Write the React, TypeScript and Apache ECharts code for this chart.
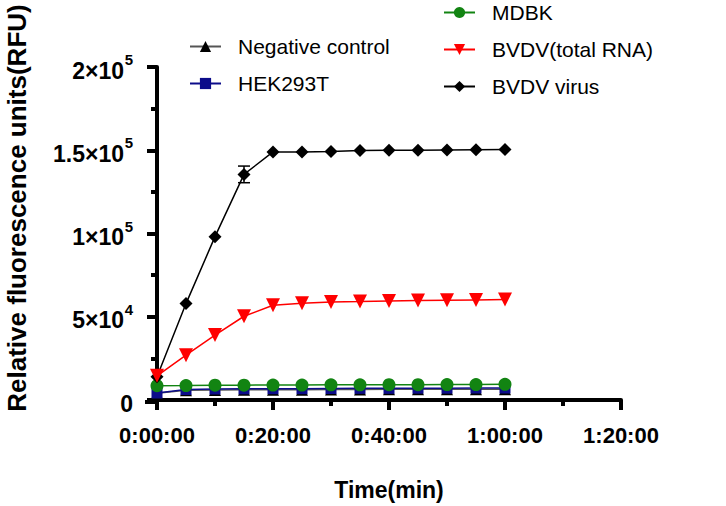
import React, { useEffect, useRef } from "react";
import * as echarts from "echarts";

const times = [0, 5, 10, 15, 20, 25, 30, 35, 40, 45, 50, 55, 60];
const negativeControl = [4000, 5800, 6000, 6100, 6200, 6200, 6300, 6300, 6400, 6400, 6500, 6500, 6500];
const hek293t = [4200, 6300, 6600, 6700, 6800, 6800, 6900, 7000, 7000, 7100, 7100, 7200, 7200];
const mdbk = [8600, 8700, 8900, 8900, 9000, 9000, 9100, 9100, 9200, 9200, 9300, 9300, 9400];
const bvdvRna = [14500, 26900, 39000, 50300, 56900, 58100, 58900, 59100, 59500, 59700, 59900, 60100, 60300];
const bvdvVirus = [14000, 57900, 98100, 135500, 149000, 149000, 149300, 149800, 150000, 150000, 150200, 150300, 150400];
// error bars: [time, low, high]
const virusErrors = [[15, 130500, 140500]];

const yTickValues = [0, 50000, 100000, 150000, 200000];
const yTickMantissa = ["0", "5", "1", "1.5", "2"];
const yTickExponent = ["", "4", "5", "5", "5"];

const FONT = "'Liberation Sans', Arial, sans-serif";

function xLabel(v: number): string {
  const h = Math.floor(v / 60);
  const m = v % 60;
  return `${h}:${m < 10 ? "0" + m : m}:00`;
}

function charTokens(s: string): string {
  return s
    .split("")
    .map((c) => (c === "." ? `{p|.}` : `{d|${c}}`))
    .join("");
}

function yLabel(v: number): string {
  const i = yTickValues.indexOf(v);
  if (i < 0) return "";
  if (!yTickExponent[i]) return charTokens(yTickMantissa[i]);
  return `${charTokens(yTickMantissa[i])}{x|×}${charTokens("10")}{s|${yTickExponent[i]}}`;
}

function pairs(ys: number[]) {
  return times.map((t, i) => [t, ys[i]]);
}

export default function App() {
  const ref = useRef<HTMLDivElement>(null);
  useEffect(() => {
    if (!ref.current) return;
    const chart = echarts.init(ref.current, null, { renderer: "svg" });
    const lineW = 1.5;
    const legendText = { fontSize: 21, color: "#000", fontFamily: FONT, lineHeight: 21, padding: [0, 0, 0, 12] };
    const axisStroke = { color: "#000", width: 4 };
    const lbl = { fontWeight: "bold", color: "#000", fontFamily: FONT, lineHeight: 30 };
    chart.setOption({
      animation: false,
      backgroundColor: "#fff",
      grid: { left: 157, right: 105, top: 67, bottom: 104, containLabel: false },
      legend: [
        {
          data: ["Negative control", "HEK293T"],
          orient: "vertical",
          left: 189,
          top: 36,
          padding: 0,
          itemWidth: 31,
          itemHeight: 14,
          itemGap: 16,
          textStyle: legendText,
        },
        {
          data: ["MDBK", "BVDV(total RNA)", "BVDV virus"],
          orient: "vertical",
          left: 443,
          top: 2,
          padding: 0,
          itemWidth: 31,
          itemHeight: 14,
          itemGap: 16,
          textStyle: legendText,
        },
      ],
      xAxis: {
        type: "value",
        min: 0,
        max: 80,
        interval: 20,
        name: "Time(min)",
        nameLocation: "middle",
        nameGap: 78,
        nameTextStyle: { fontSize: 23, fontWeight: "bold", color: "#000", fontFamily: FONT },
        axisLine: { show: true, onZero: false, lineStyle: axisStroke },
        axisTick: { show: true, length: 10, lineStyle: axisStroke },
        minorTick: { show: true, splitNumber: 2, length: 6, lineStyle: axisStroke },
        splitLine: { show: false },
        axisLabel: {
          formatter: (v: number) => xLabel(v),
          fontSize: 22,
          fontWeight: "bold",
          color: "#000",
          fontFamily: FONT,
          margin: 24,
          showMinLabel: true,
          showMaxLabel: true,
        },
      },
      yAxis: {
        type: "value",
        min: 0,
        max: 200000,
        interval: 50000,
        axisLine: { show: true, onZero: false, lineStyle: axisStroke },
        axisTick: { show: true, length: 10, lineStyle: axisStroke },
        minorTick: { show: true, splitNumber: 2, length: 6, lineStyle: axisStroke },
        splitLine: { show: false },
        axisLabel: {
          formatter: (v: number) => yLabel(v),
          margin: 24,
          color: "#000",
          fontSize: 23,
          fontWeight: "bold",
          fontFamily: FONT,
          rich: {
            d: { ...lbl, fontSize: 23, verticalAlign: "bottom", width: 12.8 },
            p: { ...lbl, fontSize: 23, verticalAlign: "bottom", width: 6.4 },
            x: { ...lbl, fontSize: 23, verticalAlign: "bottom", width: 13.4 },
            s: { ...lbl, fontSize: 15, verticalAlign: "top", width: 9 },
          },
        },
      },
      graphic: [
        {
          type: "text",
          x: 17,
          y: 208,
          rotation: Math.PI / 2,
          style: {
            text: "Relative fluorescence units(RFU)",
            fontSize: 26,
            fontWeight: "bold",
            fill: "#000",
            fontFamily: FONT,
            align: "center",
            verticalAlign: "middle",
          },
        },
        {
          type: "line",
          shape: { x1: 145, y1: 402, x2: 158, y2: 402 },
          style: { stroke: "#000", lineWidth: 4 },
        },
      ],
      series: [
        {
          name: "Negative control",
          type: "line",
          data: pairs(negativeControl),
          symbol: "triangle",
          symbolSize: 12,
          itemStyle: { color: "#000" },
          lineStyle: { color: "#555", width: lineW },
          z: 2,
        },
        {
          name: "HEK293T",
          type: "line",
          data: pairs(hek293t),
          symbol: "rect",
          symbolSize: 11,
          itemStyle: { color: "#0c0c8a" },
          lineStyle: { color: "#0c0c8a", width: lineW },
          z: 3,
        },
        {
          name: "MDBK",
          type: "line",
          data: pairs(mdbk),
          symbol: "circle",
          symbolSize: 13,
          itemStyle: { color: "#128412" },
          lineStyle: { color: "#128412", width: lineW },
          z: 4,
        },
        {
          name: "BVDV virus",
          type: "line",
          data: pairs(bvdvVirus),
          symbol: "diamond",
          symbolSize: 13,
          itemStyle: { color: "#000" },
          lineStyle: { color: "#000", width: lineW },
          z: 5,
        },
        {
          name: "BVDV(total RNA)",
          type: "line",
          data: pairs(bvdvRna),
          symbol: "triangle",
          symbolRotate: 180,
          symbolSize: 14,
          itemStyle: { color: "#ff0000" },
          lineStyle: { color: "#ff0000", width: lineW },
          z: 6,
        },
        {
          type: "custom",
          name: "virus error",
          data: virusErrors,
          z: 7,
          renderItem: (params: any, api: any) => {
            const x = api.value(0);
            const lo = api.coord([x, api.value(1)]);
            const hi = api.coord([x, api.value(2)]);
            const w = 6;
            const st = { stroke: "#000", lineWidth: 1.5 };
            return {
              type: "group",
              children: [
                { type: "line", shape: { x1: lo[0], y1: lo[1], x2: hi[0], y2: hi[1] }, style: st },
                { type: "line", shape: { x1: lo[0] - w, y1: lo[1], x2: lo[0] + w, y2: lo[1] }, style: st },
                { type: "line", shape: { x1: hi[0] - w, y1: hi[1], x2: hi[0] + w, y2: hi[1] }, style: st },
              ],
            };
          },
        },
      ],
    });
    return () => chart.dispose();
  }, []);
  return <div ref={ref} style={{ width: 726, height: 506, position: "absolute", left: 0, top: 0 }} />;
}
